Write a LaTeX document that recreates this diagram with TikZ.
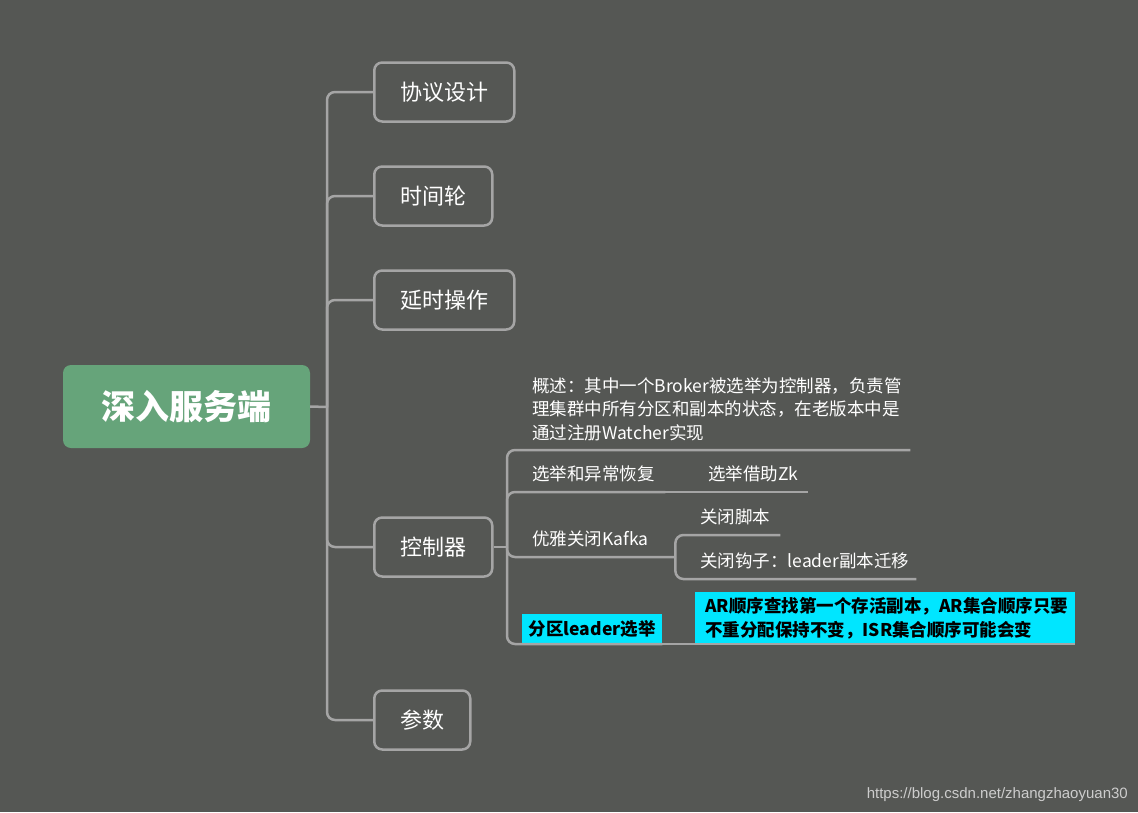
\documentclass[tikz,border=0pt]{standalone}
\usepackage{fontspec}
\setmainfont{Noto Sans CJK SC}
\newfontfamily\wmfont{Liberation Sans}
\definecolor{bgc}{RGB}{85,87,84}
\definecolor{linec}{RGB}{165,165,165}
\definecolor{rootc}{RGB}{102,164,122}
\definecolor{cyanc}{RGB}{0,230,255}
\definecolor{wmc}{RGB}{205,205,205}
\tikzset{
  conn/.style={draw=linec, line width=2.5pt, rounded corners=8pt},
  rootbox/.style={fill=rootc, rounded corners=8pt, minimum width=247pt, minimum height=83pt,
    text=white, font=\fontsize{34}{40}\selectfont\bfseries},
  topicbox/.style={draw=linec, line width=2.5pt, rounded corners=8pt, anchor=west,
    minimum height=59pt, inner xsep=26pt, text=white, font=\fontsize{22}{26}\selectfont},
  leaf/.style={anchor=south west, inner sep=0pt, text depth=11pt, text=white,
    font=\fontsize{17.5}{23.5}\selectfont, align=left},
  leafmulti/.style={anchor=south west, inner xsep=0pt, inner ysep=9pt, text=white,
    font=\fontsize{17.5}{23.5}\selectfont, align=left},
  hlbox/.style={fill=cyanc, text=black, font=\fontsize{17.5}{24}\selectfont\bfseries,
    anchor=south west},
  wm/.style={anchor=base east, text=wmc, font=\wmfont\fontsize{15}{18}\selectfont, inner sep=0pt}
}
\begin{document}
\begin{tikzpicture}[x=1pt,y=-1pt]
\fill[bgc] (0,0) rectangle (1138,812);
\useasboundingbox (0,0) rectangle (1138,812);

% root and topics
\node[rootbox] (root) at (186.5,406.5) {深入服务端};
\node[topicbox] (b1) at (373,92) {协议设计};
\node[topicbox] (b2) at (373,196) {时间轮};
\node[topicbox] (b3) at (373,300) {延时操作};
\node[topicbox] (b4) at (373,547) {控制器};
\node[topicbox] (b5) at (373,720) {参数};

\coordinate (tj) at (327,407);
\draw[conn] (root.east) -- (tj);
\draw[conn] (tj) |- (b1.west);
\draw[conn] (tj) |- (b2.west);
\draw[conn] (tj) |- (b3.west);
\draw[conn] (tj) |- (b4.west);
\draw[conn] (tj) |- (b5.west);

% controller children
\node[leafmulti, text width=378pt] (c1) at (532,450) {概述：其中一个Broker被选举为控制器，负责管\\理集群中所有分区和副本的状态，在老版本中是\\通过注册Watcher实现};
\node[leaf, text width=133pt] (c2) at (532,492) {选举和异常恢复};
\node[leaf, text width=100pt] (c2a) at (708,492) {选举借助Zk};
\node[leaf, text width=143pt] (c3) at (532,557) {优雅关闭Kafka};
\node[leaf, text width=80pt] (c3a) at (700,535) {关闭脚本};
\node[leaf, text width=216pt] (c3b) at (700,579) {关闭钩子：leader副本迁移};
\node[hlbox, minimum width=140pt, minimum height=30pt, inner sep=0pt] (c4) at (522,644) {分区leader选举};
\node[hlbox, minimum width=380pt, minimum height=52pt, text width=360pt, inner xsep=10pt, inner ysep=3pt, align=left] (c4a) at (695,644) {AR顺序查找第一个存活副本，AR集合顺序只要\\不重分配保持不变，ISR集合顺序可能会变};

\coordinate (cj) at (507,547);
\draw[conn] (b4.east) -- (cj);
\draw[conn] (cj) |- (c1.south east);
\draw[conn] (cj) |- (c2.south east);
\draw[conn] (c2.south east) -- (c2a.south east);
\draw[conn] (cj) |- (c3.south east);
\draw[conn] (c3.south east) |- (c3a.south east);
\draw[conn] (c3.south east) |- (c3b.south east);
\draw[conn] (cj) |- (c4.south east);
\draw[conn] (c4.south east) -- (c4a.south east);

\node[wm] (wmark) at (1128,798) {https://blog.csdn.net/zhangzhaoyuan30};
\end{tikzpicture}
\end{document}
